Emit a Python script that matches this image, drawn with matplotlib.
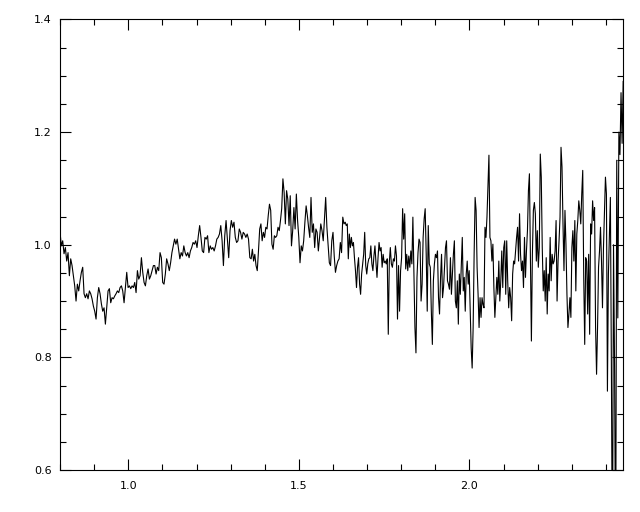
import numpy
from matplotlib import pyplot as plt
from matplotlib.ticker import MultipleLocator

# Flux, one list per stretch of the spectrum.
flux_1 = [1.022, 0.998, 1.007, 0.984, 0.995, 0.971, 0.986, 0.945, 0.975, 0.963, 0.945, 0.927,
          0.900, 0.930, 0.918, 0.936, 0.951, 0.960, 0.913, 0.906, 0.913, 0.904, 0.918, 0.913,
          0.904, 0.891, 0.882, 0.868, 0.906, 0.924, 0.913, 0.895, 0.882, 0.888, 0.859, 0.888,
          0.918, 0.922, 0.897, 0.906, 0.904, 0.909, 0.913, 0.918, 0.915, 0.924, 0.927, 0.918,
          0.897, 0.924, 0.951, 0.924, 0.927, 0.922, 0.927, 0.924, 0.933, 0.915, 0.954, 0.939,
          0.945, 0.977, 0.951, 0.933, 0.927, 0.945, 0.957, 0.939, 0.945, 0.954, 0.963, 0.963]
flux_2 = [0.948, 0.960, 0.954, 0.986, 0.977, 0.933, 0.930, 0.948, 0.975, 0.966, 0.954, 0.968,
          0.986, 0.998, 1.010, 1.001, 1.010, 0.992, 0.975, 0.986, 0.980, 0.998, 0.986, 0.980,
          0.986, 0.977, 0.989, 0.995, 1.004, 1.001, 1.007, 0.995, 1.016, 1.034, 1.013, 0.989,
          0.986, 1.013, 1.010, 1.016, 0.986, 0.998, 0.992, 0.995, 0.989, 0.998, 1.010, 1.013,
          1.019, 1.034, 1.007, 0.963, 1.016, 1.043, 1.010, 0.977, 1.025, 1.043, 1.031, 1.040,
          1.013, 1.004, 1.007, 1.028, 1.022, 1.010, 1.022, 1.019, 1.013, 1.019, 1.010, 0.977]
flux_3 = [0.975, 0.992, 0.971, 0.983, 0.963, 0.954, 0.989, 1.028, 1.037, 1.007, 1.022, 1.013,
          1.031, 1.028, 1.052, 1.072, 1.061, 1.001, 0.992, 1.016, 1.013, 1.016, 1.031, 1.025,
          1.043, 1.064, 1.117, 1.093, 1.037, 1.096, 1.081, 1.034, 1.087, 0.998, 1.025, 1.066,
          1.028, 1.090, 1.043, 1.013, 0.968, 0.998, 0.989, 1.007, 1.040, 1.069, 1.052, 1.031,
          1.013, 1.084, 1.022, 1.037, 0.995, 1.028, 1.022, 0.989, 1.013, 1.037, 1.025, 1.007,
          1.046, 1.084, 1.031, 0.998, 0.968, 0.963, 1.007, 1.022, 0.980, 0.951, 0.963, 0.971,
          0.975, 1.004, 0.986, 1.049, 1.037]
flux_4 = [1.040, 1.034, 1.037, 0.975, 1.019, 0.995, 1.013, 0.998, 1.004, 0.977, 0.954, 0.924,
          0.960, 0.977, 0.930, 0.912, 0.948, 0.966, 0.983, 1.022, 0.963, 0.948, 0.966, 0.975,
          0.977, 0.998, 0.966, 0.954, 0.980, 0.998, 0.968, 0.942, 0.977, 1.004, 0.989, 0.995,
          0.960, 0.983, 0.968, 0.971, 0.966, 0.975, 0.841, 0.968, 0.995, 0.966, 0.960, 0.975,
          0.971, 0.998, 0.980, 0.868, 0.963, 0.882, 0.954, 0.977, 1.064, 1.010, 1.055, 0.957,
          0.983, 0.954, 0.980, 0.960, 0.989, 0.966, 1.049, 0.954, 0.853, 0.808, 0.942, 0.986,
          1.010, 1.004, 0.900, 0.930, 1.013, 1.046, 1.064, 0.983, 0.882, 1.034, 0.966, 0.960,
          0.882, 0.823, 0.936, 0.966, 0.983, 0.977, 0.989, 0.906, 0.877]
flux_5 = [0.942, 0.983, 0.906, 0.924, 0.960, 0.995, 1.007, 0.936, 0.930, 0.921, 0.977, 0.912,
          0.948, 0.983, 1.007, 0.900, 0.888, 0.936, 0.859, 0.948, 0.912, 0.960, 1.013, 0.918,
          0.942, 0.882, 0.948, 0.971, 0.930, 0.954, 0.888, 0.817, 0.781, 0.853, 0.983, 1.084,
          1.061, 0.960, 0.912, 0.853, 0.906, 0.871, 0.906, 0.894, 0.888, 1.031, 1.013, 1.049,
          1.102, 1.159, 1.013, 1.007, 0.971, 1.001, 0.924, 0.871, 0.906, 0.942, 0.912, 0.971,
          0.900, 0.936, 0.989, 0.924, 0.995, 1.007, 0.912, 1.007, 0.936, 0.888, 0.924, 0.906,
          0.865, 0.948, 0.971, 0.966, 0.989, 1.013, 1.031, 0.971, 1.055, 0.983, 0.954, 0.971,
          0.924, 1.013, 0.942, 0.989, 1.025, 1.096, 1.126, 0.971, 0.829, 0.983, 1.061, 1.075]
flux_6 = [1.055, 0.971, 1.025, 0.960, 0.995, 1.161, 1.120, 0.995, 0.918, 0.954, 0.900, 0.977,
          0.877, 0.948, 0.918, 1.013, 0.936, 0.983, 0.966, 0.971, 0.989, 1.043, 0.900, 0.971,
          1.007, 1.049, 1.173, 1.138, 1.037, 0.954, 1.061, 1.001, 0.912, 0.853, 0.877, 0.906,
          0.871, 0.995, 1.025, 0.971, 1.043, 0.918, 1.019, 1.043, 1.078, 1.061, 1.037, 1.090,
          1.132, 0.942, 0.823, 0.977, 0.971, 0.877, 0.983, 0.841, 1.037, 1.019, 1.078, 1.043,
          1.066, 0.853, 0.770, 0.853, 0.960, 0.989, 1.031, 0.971, 0.888, 0.995, 1.061, 1.120,
          1.090, 0.740, 0.948, 1.019, 1.084]
flux_7 = [0.79, 0.40, 1.00, 0.78, 0.40, 1.15, 0.87, 1.20, 1.16, 1.27, 1.18, 1.29]

# Wavelength where each stretch starts (last entry is where the data ends).
segment_starts = [0.800, 1.0815, 1.3601, 1.6358, 1.9152, 2.1930, 2.4158, 2.4504]

segments = [flux_1, flux_2, flux_3, flux_4, flux_5, flux_6, flux_7]
wave = []
flux = []
for i, seg in enumerate(segments):
    last = i == len(segments) - 1
    wave.extend(numpy.linspace(segment_starts[i], segment_starts[i+1], len(seg), endpoint=last))
    flux.extend(seg)

fig = plt.figure(figsize=(6.4, 5.12), dpi=100)
ax = fig.add_axes([0.0938, 0.082, 0.8797, 0.880])
ax.plot(wave, flux, color="black", linewidth=0.8)

ax.set_xlim(0.8, 2.45)
ax.set_ylim(0.6, 1.4)
ax.xaxis.set_major_locator(MultipleLocator(0.5))
ax.xaxis.set_minor_locator(MultipleLocator(0.1))
ax.yaxis.set_major_locator(MultipleLocator(0.2))
ax.yaxis.set_minor_locator(MultipleLocator(0.05))
ax.xaxis.set_major_formatter(plt.FormatStrFormatter("%.1f"))
ax.yaxis.set_major_formatter(plt.FormatStrFormatter("%.1f"))

# IDL look: inward ticks on all four sides.
ax.tick_params(which="both", direction="in", top=True, right=True, width=0.8, labelsize=8)
ax.tick_params(which="major", length=8)
ax.tick_params(which="minor", length=4.5)
ax.tick_params(axis="x", which="major", pad=8)
ax.tick_params(axis="y", which="major", pad=6)
for spine in ax.spines.values():
    spine.set_linewidth(0.8)

plt.savefig("out.png", dpi=100)
